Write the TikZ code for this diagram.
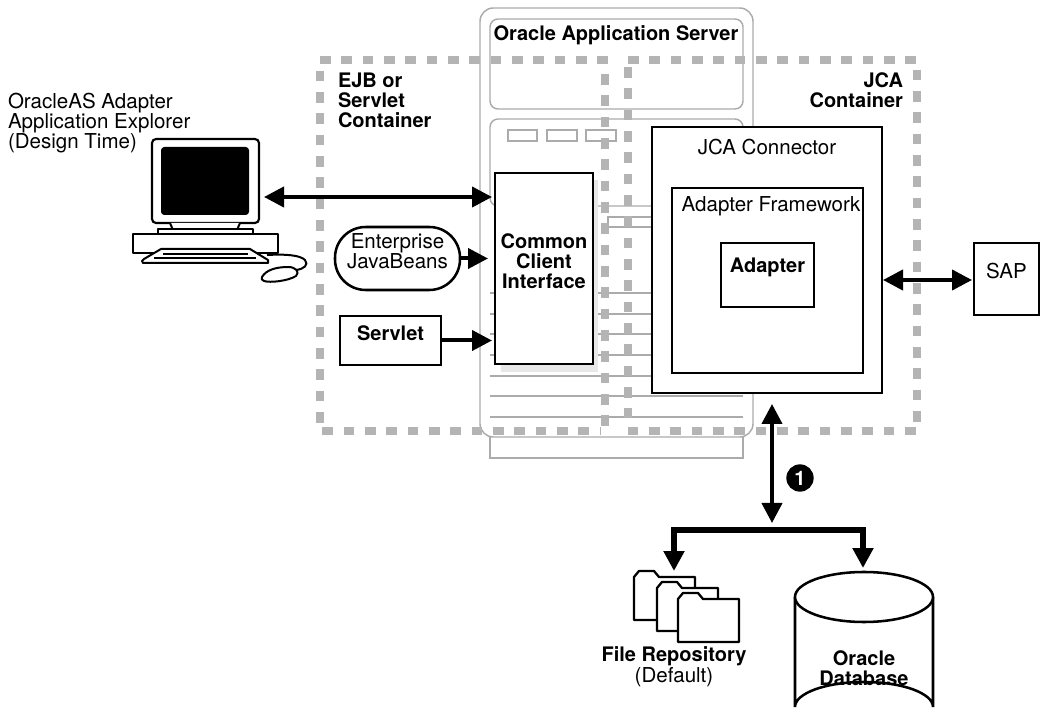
\documentclass[tikz,border=0pt]{standalone}
\usepackage{fontspec}
\setmainfont{TeX Gyre Heros}
\usetikzlibrary{arrows.meta,fit,calc}
\definecolor{srv}{HTML}{ABABAB}
\definecolor{dsh}{HTML}{B4B4B4}
\definecolor{shd}{HTML}{E8E8EA}
\newcommand{\regtext}{\fontsize{15.4}{15}\selectfont}
\newcommand{\boldtext}{\fontsize{15}{15}\selectfont\bfseries}
\tikzset{
 x=0.75pt,y=-0.75pt,
 srvline/.style={draw=srv,line width=1.1pt},
 srvbox/.style={srvline,fill=none},
 zone/.style={draw=dsh,line width=5.4pt,dash pattern=on 8pt off 8pt},
 blackbox/.style={draw=black,line width=1.9pt,fill=white,inner sep=0pt,outer sep=0pt,align=center},
 reg/.style={inner sep=0pt,outer sep=0pt,font=\regtext},
 bld/.style={inner sep=0pt,outer sep=0pt,font=\boldtext},
 conn/.style={line width=3pt,draw=black,-{Triangle[length=15pt,width=15pt]}},
 biconn/.style={line width=3pt,draw=black,{Triangle[length=15pt,width=15pt]}-{Triangle[length=15pt,width=15pt]}},
 pcline/.style={draw=black,line width=1.5pt,line join=round},
 fold/.style={draw=black,line width=1.7pt,fill=white,line join=round},
}
\begin{document}
\begin{tikzpicture}
\useasboundingbox (0,0) rectangle (1040,727);
% application server
\draw[srvbox,rounded corners=10pt] (480,8) rectangle (753,437);
\draw[srvbox,rounded corners=6pt] (490,19) rectangle (743,109);
\draw[srvbox,rounded corners=6pt] (490,206) -- (490,119) -- (743,119) -- (743,206) -- cycle;
\draw[srvbox] (508,130) rectangle (537,141);
\draw[srvbox] (547,130) rectangle (577,141);
\draw[srvbox] (586,130) rectangle (616,141);
\draw[srvbox] (608,217) rectangle (700,227);
\foreach \yy in {293,314,334,355,376,396,417}{\draw[srvline] (490,\yy) -- (743,\yy);}
\draw[srvbox] (490,437) -- (490,458) -- (743,458) -- (743,437);
% containers
\draw[zone] (608,60) -- (320,60) -- (320,431) -- (600,431);
\draw[zone] (605,74) -- (605,426);
\draw[zone] (628,60) -- (917,60) -- (917,431) -- (624,431);
\draw[zone] (628,67) -- (628,418);
% boxes
\fill[shd] (501,180) rectangle (598,372);
\node[blackbox,font=\boldtext,fit={(495,173)(593,364)}] (cci) {Common\\Client\\Interface};
\node[blackbox,fit={(652,127)(882,393)}] (jca) {};
\node[blackbox,fit={(672,188)(863,373)}] (fw) {};
\node[blackbox,font=\boldtext,fit={(721,243)(814,307)}] (adapter) {Adapter};
\node[blackbox,font=\regtext,fit={(974,243)(1039,315)}] (sap) {SAP};
\node[blackbox,font=\boldtext,fit={(340,316)(441,365)}] (servlet) {Servlet};
\node[blackbox,font=\regtext,rounded corners=23pt,fit={(335,227)(460,290)}] (ejb) {Enterprise\\JavaBeans};
\node[reg,anchor=center] (jcalabel) at (767,147) {JCA Connector};
\node[reg,anchor=center] (fwlabel) at (771,206) {Adapter Framework};
% labels
\node[bld,anchor=center] (oas) at (616,35) {Oracle Application Server};
\node[bld,anchor=north west,align=left] (ejbc) at (338,73) {EJB or\\Servlet\\Container};
\node[bld,anchor=north east,align=right] (jcac) at (903,73) {JCA\\Container};
\node[reg,anchor=north west,align=left] (explorer) at (8,93) {OracleAS Adapter\\Application Explorer\\(Design Time)};
% computer
\node[draw=black,line width=1.6pt,fill=white,rounded corners=3pt,inner sep=0pt,outer sep=0pt,fit={(152,139)(259,223)}] (monitor) {};
\fill[black,rounded corners=2.5pt] (161,147) rectangle (249,215);
\draw[pcline,fill=white] (170,223) -- (173,230) -- (237,230) -- (240,223);
\draw[pcline,fill=white] (158,234) -- (158,229.5) -- (253,229.5) -- (253,234);
\draw[pcline,fill=white] (133,234) rectangle (278,253);
\draw[pcline] (267,255) .. controls (285,254) and (300,255) .. (305,260) .. controls (309,265) and (304,269) .. (296,270);
\draw[pcline,fill=white] (262,277) .. controls (266,270) and (276,267) .. (288,267) .. controls (296,267) and (300,272) .. (296,276) .. controls (288,281) and (270,283) .. (264,281) .. controls (262,280) and (261,279) .. (262,277) -- cycle;
\draw[pcline,fill=white] (161,249) -- (250,249) -- (268,260) -- (268,263) -- (143,263) .. controls (141,262) and (142,260) .. (144,259) -- cycle;
\draw[black,line width=1.5pt] (163,254.5) -- (248,254.5);
\draw[black,line width=1.5pt] (154,258.5) -- (256,258.5);
\coordinate (pcport) at (264,197);
% connectors
\draw[biconn] (pcport) -- ($(cci.west |- pcport)+(-3,0)$);
\draw[conn,shorten >=3\pgflinewidth-6pt] (ejb.east) -- ($(cci.west |- ejb.east)+(-3,0)$);
\draw[conn] (servlet.east) -- ($(cci.west |- servlet.east)+(-3,0)$);
\coordinate (sapl) at (883,280);
\draw[biconn] (sapl) -- ($(sap.west |- sapl)+(-2,0)$);
% storage
\coordinate (vtop) at (772,404);
\coordinate (junc) at (772,530);
\coordinate (vbot) at (772,523);
\coordinate (repotop) at (674,571);
\coordinate (dbtop) at (863,568);
\draw[biconn] (vtop) -- (vbot);
\draw[conn,line width=3.8pt,line join=miter] (junc) -| (repotop);
\draw[conn,line width=3.8pt,line join=miter] (junc) -| (dbtop);
\node[circle,fill=black,text=white,inner sep=0pt,minimum size=20.5pt,font=\fontsize{15}{15}\selectfont\bfseries] (one) at (800,478) {1};
% folders
\foreach \fx/\fy in {634/571,657/582,678/593}{
 \draw[fold] (\fx,\fy+49) -- (\fx,\fy+6) -- (\fx+5,\fy) -- (\fx+20,\fy) -- (\fx+25,\fy+6) -- (\fx+61,\fy+6) -- (\fx+61,\fy+49) -- cycle;
}
\node[bld,anchor=center] (repo) at (674,656) {File Repository};
\node[reg,anchor=center] (deflt) at (674,677) {(Default)};
% database
\draw[draw=black,line width=1.9pt,fill=white] (795,597) -- (795,707) arc[start angle=180,end angle=360,x radius=69,y radius=25] -- (933,597);
\draw[draw=black,line width=1.9pt,fill=white] (864,597) ellipse[x radius=69,y radius=25];
\node[bld,align=center] (db) at (864,668) {Oracle\\Database};
\end{tikzpicture}
\end{document}
